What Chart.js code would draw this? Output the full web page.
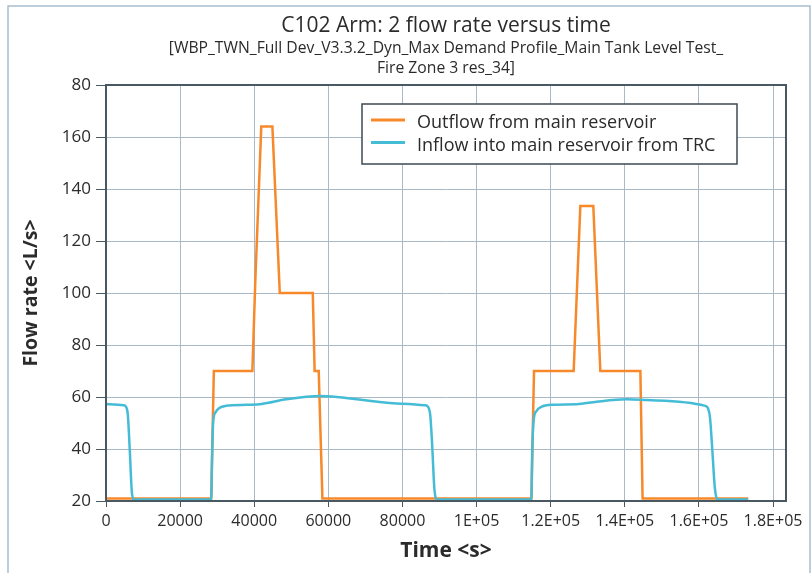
<!DOCTYPE html>
<html>
<head>
<meta charset="utf-8">
<script src="https://cdn.jsdelivr.net/npm/chart.js@4.4.1/dist/chart.umd.min.js"></script>
<style>
  html, body { margin: 0; padding: 0; background: #fff; }
  #wrap { width: 812px; height: 573px; }
</style>
</head>
<body>
<div id="wrap"><canvas id="flowChart" width="812" height="573"></canvas></div>
<script>
// chart text
const titleText = 'C102 Arm: 2 flow rate versus time';
const subtitleLines = [
    '[WBP_TWN_Full Dev_V3.3.2_Dyn_Max Demand Profile_Main Tank Level Test_',
    'Fire Zone 3 res_34]'
];
const seriesLabels = ['Outflow from main reservoir', 'Inflow into main reservoir from TRC'];
const xAxisTitle = 'Time <s>';
const yAxisTitle = 'Flow rate <L/s>';

// Outflow from main reservoir (time s, flow L/s)
const outflowTime = [0, 28400, 29100, 39500, 40300, 41900, 44900, 46900, 55800, 56300, 57400, 58400,
    114800, 115500, 126200, 128000, 131500, 133400, 144200, 144800, 173300];
const outflowRate = [21, 21, 70, 70, 105, 164, 164, 100, 100, 70, 70, 21,
    21, 70, 70, 133.5, 133.5, 70, 70, 21, 21];

// Inflow into main reservoir from TRC
const inflowTime = [0, 4800, 5400, 5900, 6400, 7000, 7500, 28400, 28600, 28900, 29500, 30600, 32400,
    38000, 42000, 48600, 57600, 77400, 86000, 86900, 87500, 88000, 88600, 89300,
    114800, 115000, 115400, 116100, 117500, 120300, 127000, 132400, 140500, 146000, 161700,
    162400, 163000, 163600, 164300, 165000, 173300];
const inflowRate = [57.3, 56.8, 56.2, 53, 40, 23, 20.6, 20.6, 35, 50, 54, 55.8, 56.6,
    57, 57.3, 59.1, 60.4, 57.6, 56.8, 56.2, 53, 42, 25, 20.6,
    20.6, 38, 51, 54.5, 56.2, 57, 57.2, 58.2, 59.1, 58.8, 56.6,
    55.8, 52, 40, 25, 20.6, 20.6];

// axis ticks
const xTickValues = [0, 20000, 40000, 60000, 80000, 100000, 120000, 140000, 160000, 180000];
const yTickValues = [20, 40, 60, 80, 100, 120, 140, 160, 180];

const textColor = '#2b2b2b';
const gridColor = '#a9bac6';
const axisColor = '#4a5862';
const fontFamily = '"Open Sans", "Noto Sans", sans-serif';

function toPoints(times, values) {
    return times.map((t, i) => ({ x: t, y: values[i] }));
}

function formatTime(v) {
    if (v >= 100000) return parseFloat((v / 100000).toFixed(2)) + 'E+05';
    return String(v);
}

// titles, frame, plot box and legend
const decorPlugin = {
    id: 'decor',
    beforeDraw(chart) {
        const ctx = chart.ctx;
        ctx.save();
        ctx.strokeStyle = '#a7bdd0';
        ctx.lineWidth = 1.5;
        ctx.beginPath();
        ctx.moveTo(8, 573);
        ctx.lineTo(8, 6);
        ctx.lineTo(810, 6);
        ctx.lineTo(810, 573);
        ctx.stroke();
        ctx.restore();
    },
    afterDatasetsDraw(chart) {
        const { ctx, chartArea: a } = chart;
        const cx = (a.left + a.right) / 2;
        ctx.save();
        // plot box
        ctx.strokeStyle = axisColor;
        ctx.lineWidth = 2;
        ctx.strokeRect(a.left, a.top, a.right - a.left, a.bottom - a.top);

        // title
        ctx.fillStyle = textColor;
        ctx.textAlign = 'center';
        ctx.textBaseline = 'middle';
        ctx.font = '21px ' + fontFamily;
        ctx.fillText(titleText, cx, 26);
        ctx.font = '15.7px ' + fontFamily;
        ctx.fillText(subtitleLines[0], cx, 49);
        ctx.fillText(subtitleLines[1], cx, 69);

        // legend
        const box = { x: 362, y: 104, w: 375, h: 60 };
        ctx.fillStyle = '#fff';
        ctx.fillRect(box.x, box.y, box.w, box.h);
        ctx.strokeStyle = '#3e4a52';
        ctx.lineWidth = 1.5;
        ctx.strokeRect(box.x, box.y, box.w, box.h);
        ctx.font = '18px ' + fontFamily;
        ctx.textAlign = 'left';
        chart.data.datasets.forEach((ds, i) => {
            const y = 120 + i * 22.5;
            ctx.strokeStyle = ds.borderColor;
            ctx.lineWidth = 3;
            ctx.beginPath();
            ctx.moveTo(371, y);
            ctx.lineTo(405, y);
            ctx.stroke();
            ctx.fillStyle = textColor;
            ctx.fillText(ds.label, 417, y + 3);
        });
        ctx.restore();
    }
};

const ctx = document.getElementById('flowChart').getContext('2d');
new Chart(ctx, {
    type: 'line',
    data: {
        datasets: [{
            label: seriesLabels[0],
            data: toPoints(outflowTime, outflowRate),
            borderColor: '#f7892b',
            borderWidth: 2.5,
            pointRadius: 0,
            tension: 0,
            order: 2
        }, {
            label: seriesLabels[1],
            data: toPoints(inflowTime, inflowRate),
            borderColor: '#45bcd6',
            borderWidth: 2.5,
            pointRadius: 0,
            cubicInterpolationMode: 'monotone',
            order: 1
        }]
    },
    options: {
        responsive: false,
        animation: false,
        devicePixelRatio: 1,
        layout: { padding: { top: 85, right: 26, left: 0, bottom: 0 } },
        plugins: {
            legend: { display: false },
            tooltip: { enabled: false }
        },
        scales: {
            x: {
                type: 'linear',
                min: 0,
                max: 183500,
                afterBuildTicks: (s) => { s.ticks = xTickValues.map(v => ({ value: v })); },
                afterFit: (s) => { s.height = 72; },
                grid: { color: gridColor, lineWidth: 1, tickColor: axisColor, tickLength: 6 },
                border: { color: axisColor, width: 2 },
                ticks: {
                    color: textColor,
                    padding: 5,
                    maxRotation: 0,
                    autoSkip: false,
                    font: { family: fontFamily, size: 16 },
                    callback: (v) => formatTime(v)
                },
                title: {
                    display: true,
                    text: xAxisTitle,
                    color: textColor,
                    padding: { top: 0, bottom: 9 },
                    font: { family: fontFamily, size: 21, weight: 'bold' }
                }
            },
            y: {
                min: 20,
                max: 180,
                afterBuildTicks: (s) => { s.ticks = yTickValues.map(v => ({ value: v })); },
                afterFit: (s) => { s.width = 106; },
                grid: { color: gridColor, lineWidth: 1, tickColor: axisColor, tickLength: 10 },
                border: { color: axisColor, width: 2 },
                ticks: {
                    color: textColor,
                    padding: 5,
                    font: { family: fontFamily, size: 17 },
                    // the top label is cut to "80" in the source picture
                    callback: (v) => v === 180 ? '80' : String(v)
                },
                title: {
                    display: true,
                    text: yAxisTitle,
                    color: textColor,
                    padding: { top: 20, bottom: 0 },
                    font: { family: fontFamily, size: 19.5, weight: 'bold' }
                }
            }
        }
    },
    plugins: [decorPlugin]
});
</script>
</body>
</html>
